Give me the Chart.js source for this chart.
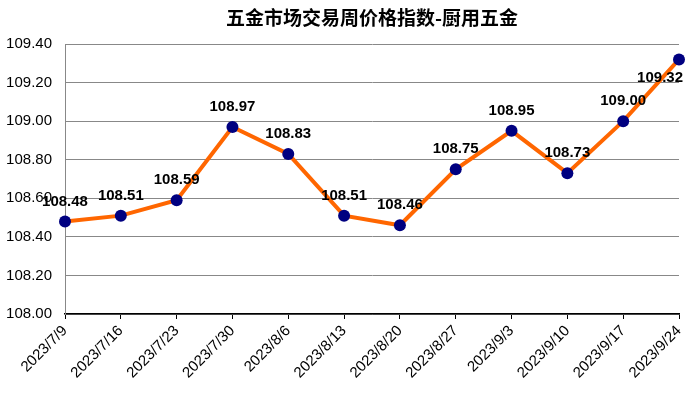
<!DOCTYPE html>
<html>
<head>
<meta charset="utf-8">
<script src="https://cdn.jsdelivr.net/npm/chart.js@4"></script>
<style>
  html, body { margin: 0; padding: 0; background: #fff; }
  #wrap { width: 686px; height: 394px; }
</style>
</head>
<body>
<div id="wrap"><canvas id="myChart" width="686" height="394"></canvas></div>
<script>
const titleText = "五金市场交易周价格指数-厨用五金";
const weeks = ["2023/7/9", "2023/7/16", "2023/7/23", "2023/7/30", "2023/8/6", "2023/8/13",
  "2023/8/20", "2023/8/27", "2023/9/3", "2023/9/10", "2023/9/17", "2023/9/24"];
const priceIndex = [108.48, 108.51, 108.59, 108.97, 108.83, 108.51, 108.46, 108.75, 108.95, 108.73, 109.00, 109.32];
const yMin = 108.0;
const yMax = 109.4;
const yStep = 0.2;

const chart = document.getElementById("myChart");

// title centred over the plot area
const titlePlugin = {
    id: "titlePlugin",
    afterDraw: (c) => {
        const ctx = c.ctx;
        const area = c.chartArea;
        ctx.save();
        ctx.font = 'bold 19px "Noto Sans CJK SC"';
        ctx.fillStyle = "#000";
        ctx.textAlign = "center";
        ctx.textBaseline = "middle";
        ctx.fillText(titleText, (area.left + area.right) / 2, 18);
        ctx.restore();
    }
};

// value labels above each point
const labelPlugin = {
    id: "labelPlugin",
    afterDatasetsDraw: (c) => {
        const ctx = c.ctx;
        const area = c.chartArea;
        const meta = c.getDatasetMeta(0);
        ctx.save();
        ctx.font = "bold 15px Arial, 'Liberation Sans'";
        ctx.fillStyle = "#000";
        ctx.textAlign = "center";
        ctx.textBaseline = "middle";
        meta.data.forEach((pt, i) => {
            const txt = priceIndex[i].toFixed(2);
            const w = ctx.measureText(txt).width;
            let x = pt.x;
            if (x + w / 2 > c.width - 3) x = c.width - 3 - w / 2;
            let y = pt.y - 20;
            if (y - 8 < area.top) y = pt.y + 18;
            ctx.fillText(txt, x, y);
        });
        ctx.restore();
    }
};

const config = {
    type: "line",
    data: {
        labels: weeks,
        datasets: [
            {
                label: "价格指数",
                data: priceIndex,
                borderColor: "#FF6600",
                borderWidth: 4,
                pointRadius: 6,
                pointHoverRadius: 6,
                pointBackgroundColor: "#000080",
                pointBorderColor: "#000080",
                pointBorderWidth: 0,
                tension: 0,
                clip: false,
            },
        ],
    },
    options: {
        responsive: false,
        animation: false,
        events: [],
        layout: { padding: { top: 44, left: 4, right: 7, bottom: 0 } },
        plugins: {
            legend: { display: false },
            title: { display: false },
            tooltip: { enabled: false },
        },
        scales: {
            x: {
                offset: false,
                afterFit: (s) => {
                    s.paddingLeft = 0;
                    s.paddingRight = 0;
                    s.height = 80;
                },
                grid: {
                    drawOnChartArea: false,
                    drawTicks: true,
                    tickLength: 5,
                    color: "#000",
                },
                border: { color: "#000", width: 1.5 },
                ticks: {
                    color: "#000",
                    font: { family: "Arial, 'Liberation Sans'", size: 15 },
                    minRotation: 45,
                    maxRotation: 45,
                    autoSkip: false,
                    padding: 3,
                },
            },
            y: {
                min: yMin,
                max: yMax,
                afterFit: (s) => {
                    s.width = 61;
                },
                grid: { color: "#888", drawTicks: false },
                border: { color: "#888" },
                ticks: {
                    stepSize: yStep,
                    color: "#000",
                    padding: 13,
                    font: { family: "Arial, 'Liberation Sans'", size: 15 },
                    callback: (v) => v.toFixed(2),
                },
            },
        },
    },
    plugins: [titlePlugin, labelPlugin],
};

const myChart = new Chart(chart, config);
</script>
</body>
</html>
